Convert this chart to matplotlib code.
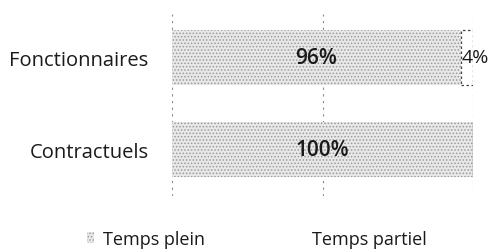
import matplotlib.pyplot as plt
from matplotlib.patches import Patch

# données
categories = ['Contractuels', 'Fonctionnaires']
temps_plein = [100, 96]
temps_partiel = [0, 4]
series = ['Temps plein', 'Temps partiel']

plt.rcParams['font.family'] = ['Open Sans', 'DejaVu Sans']
plt.rcParams['hatch.linewidth'] = 0.7

fig = plt.figure(figsize=(4.88, 2.53), dpi=100)
ax = fig.add_axes([0.353, 0.221, 0.616, 0.719])

# grille verticale
for xv in [0, 50, 100]:
    ax.axvline(xv, color='#888888', linestyle=(0, (2, 4)), linewidth=0.8, zorder=0)

y = range(len(categories))
ax.barh(y, temps_plein, height=0.6, color='#e8e8e8', edgecolor='#9a9a9a',
        hatch='.....', linewidth=0, zorder=2)
ax.barh(y, temps_partiel, left=temps_plein, height=0.6, color='white',
        edgecolor='#444444', linewidth=0.9, linestyle=(0, (2, 2)), zorder=2)

for i in y:
    ax.text(temps_plein[i] / 2, i, f'{temps_plein[i]}%', ha='center', va='center',
            fontsize=15, fontweight='semibold', color='#1a1a1a', zorder=3)
    if temps_partiel[i] > 0:
        ax.text(temps_plein[i] + 0.3, i, f'{temps_partiel[i]}%',
                ha='left', va='center', fontsize=14, color='#1a1a1a', zorder=3)

ax.set_xlim(0, 100)
ax.set_ylim(-0.51, 1.47)
ax.set_yticks(list(y))
ax.set_yticklabels(categories, fontsize=14.5, color='#1a1a1a')
ax.set_xticks([])
ax.tick_params(axis='y', length=0, pad=17)
for s in ax.spines.values():
    s.set_visible(False)

handles = [Patch(facecolor='#e8e8e8', edgecolor='#9a9a9a', hatch='.....', linewidth=0),
           Patch(facecolor='white', edgecolor='#999999', linewidth=0)]
fig.legend(handles, series, loc='center', bbox_to_anchor=(0.526, 0.052), ncol=2,
           frameon=False, fontsize=13, handlelength=0.4, handleheight=0.5,
           handletextpad=0.5, columnspacing=5.0, labelcolor='#1a1a1a',
           borderpad=0)

fig.savefig('out.png', dpi=100)
